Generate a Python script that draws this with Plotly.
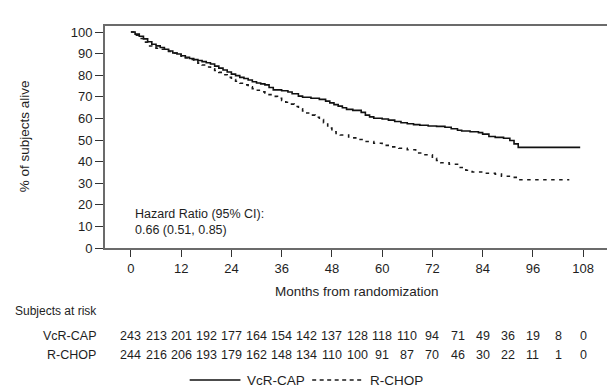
import plotly.graph_objects as go

# ---- Data ----
vcr_months = [0,1,2,3,4,5,6,7,8,9,10,11,12,13,14,15,16,17,18,19,20,21,22,23,24,25,26,27,28,29,30,31,32,33,34,
              36,37.5,38.5,40,41,43,45,46.5,47.5,48.5,49.5,50.5,51.5,53,55,56,57,58,60,61.5,63,64.5,66,67.5,69,71,73,75,
              76.5,78,79,81,83,84,85.5,87,89,90.5,91.5,92.5,107.3]
vcr_surv = [100,99,98,96.8,95.5,94.3,93.6,92.8,92,91.2,90.3,89.8,89,88.3,87.7,87.2,86.8,86.3,85.8,85.2,
            84.2,83.3,82.4,81.5,80.5,79.8,79,78.5,77.8,77,76.4,76,75.5,74.3,73.2,
            72.8,72.2,71.4,70.3,69.8,69.3,68.8,68,67.2,66.4,65.7,64.9,64.2,63.7,62.8,61.5,60.7,60.1,59.7,59.2,58.6,58,
            57.5,57.1,56.8,56.5,56.3,55.9,55.2,54.5,54.2,53.8,53.4,52.7,51.6,51.2,50.8,49.8,48.2,46.6,46.6]

rchop_months = [0,1,2,3,4,5,6,7,8,9,10,11,12,13,14,15,16,17,18,19,20,21,22,23,24,25,26,27,28,29,30,31,32,33,34,
                35,36,37,38,39,40,41,42,43,44,45,46,47,48,49,50,
                52,54,56,58,60,62,64,66,68,70,72,73,74,76,78,80,81.5,84,87,88.5,91,92.5,104.7]
rchop_surv = [100,98.5,97,95.3,93.5,93,92.5,92,91.5,91,90.2,89.5,88.8,88,87.3,86.6,85.6,84.7,83.8,83,
              82.2,81.3,80.2,79,78,77.2,76.3,75.5,74.6,73.8,73,72.3,71.8,71,70.2,69.3,68.3,67.5,66.6,65.5,
              64.5,63.5,62.5,61.5,60.5,59.5,58,55.5,53.8,53,52.3,
              51,50.2,49.3,48.5,47.5,46.8,46.2,45.5,44,43.2,41.5,40.5,39.5,38.8,37.3,36,35.2,34.6,34.2,33.2,32.7,31.6,31.6]

x_ticks = [0,12,24,36,48,60,72,84,96,108]
y_ticks = [0,10,20,30,40,50,60,70,80,90,100]

risk_months = [0,6,12,18,24,30,36,42,48,54,60,66,72,78,84,90,96,102,108]
risk_vcr = [243,213,201,192,177,164,154,142,137,128,118,110,94,71,49,36,19,8,0]
risk_rchop = [244,216,206,193,179,162,148,134,110,100,91,87,70,46,30,22,11,1,0]

series_names = ["VcR-CAP", "R-CHOP"]
hr_text = "Hazard Ratio (95% CI):<br>0.66 (0.51, 0.85)"

# ---- Layout helpers (pixel -> paper) ----
W, H = 615, 387
L, R, T, B = 97, 12, 18, 147
PW, PH = W - L - R, H - T - B
def px(xp):
    return (xp - L) / PW
def py(yp):
    return (H - B - yp) / PH

FONT = "Liberation Sans, Arial, sans-serif"
TXT = "#1e1e1e"

fig = go.Figure()
fig.add_trace(go.Scatter(x=vcr_months, y=vcr_surv, mode="lines", line_shape="hv",
                         line=dict(color="#111111", width=1.6), name=series_names[0],
                         showlegend=False))
fig.add_trace(go.Scatter(x=rchop_months, y=rchop_surv, mode="lines", line_shape="hv",
                         line=dict(color="#1a1a1a", width=1.6, dash="3.5px,4.5px"), name=series_names[1],
                         showlegend=False))

annotations = []
# axis titles
annotations.append(dict(text="% of subjects alive", xref="paper", yref="paper", x=px(16), y=py(128),
                        textangle=-90, showarrow=False, xanchor="center", yanchor="middle",
                        font=dict(size=13.5, color=TXT, family=FONT)))
annotations.append(dict(text="Months from randomization", xref="paper", yref="paper", x=px(350), y=py(283),
                        showarrow=False, xanchor="center", yanchor="middle",
                        font=dict(size=13.5, color=TXT, family=FONT)))
# hazard ratio
annotations.append(dict(text=hr_text, xref="paper", yref="paper", x=px(125), y=py(214),
                        showarrow=False, xanchor="left", yanchor="middle", align="left",
                        font=dict(size=12.5, color=TXT, family=FONT)))
# risk table
annotations.append(dict(text="Subjects at risk", xref="paper", yref="paper", x=px(5), y=py(303),
                        showarrow=False, xanchor="left", yanchor="middle",
                        font=dict(size=12, color=TXT, family=FONT)))
for name, counts, ypix in [(series_names[0], risk_vcr, 328), (series_names[1], risk_rchop, 347)]:
    annotations.append(dict(text=name, xref="paper", yref="paper", x=px(90), y=py(ypix),
                            showarrow=False, xanchor="right", yanchor="middle",
                            font=dict(size=12.5, color=TXT, family=FONT)))
    for m, n in zip(risk_months, counts):
        annotations.append(dict(text=str(n), xref="x", yref="paper", x=m, y=py(ypix),
                                showarrow=False, xanchor="center", yanchor="middle",
                                font=dict(size=12.5, color=TXT, family=FONT)))
# legend
ly = py(372)
annotations.append(dict(text=series_names[0], xref="paper", yref="paper", x=px(238), y=ly,
                        showarrow=False, xanchor="left", yanchor="middle",
                        font=dict(size=13.5, color=TXT, family=FONT)))
annotations.append(dict(text=series_names[1], xref="paper", yref="paper", x=px(361), y=ly,
                        showarrow=False, xanchor="left", yanchor="middle",
                        font=dict(size=13.5, color=TXT, family=FONT)))
shapes = [
    dict(type="line", xref="paper", yref="paper", x0=px(182), x1=px(233), y0=ly, y1=ly,
         line=dict(color="#111111", width=1.4)),
    dict(type="line", xref="paper", yref="paper", x0=px(305), x1=px(357), y0=ly, y1=ly,
         line=dict(color="#1a1a1a", width=1.4, dash="4px,3.5px")),
]

fig.update_layout(
    width=W, height=H, margin=dict(l=L, r=R, t=T, b=B),
    paper_bgcolor="white", plot_bgcolor="white",
    font=dict(family=FONT, size=13, color=TXT),
    annotations=annotations, shapes=shapes, showlegend=False,
    xaxis=dict(range=[-6.185, 114.18], tickvals=x_ticks, ticks="outside", ticklen=7, tickwidth=1,
               tickcolor="#333333", showline=True, mirror=True, linecolor="#6b6b6b", linewidth=2,
               showgrid=False, zeroline=False, tickfont=dict(size=13, color=TXT, family=FONT)),
    yaxis=dict(range=[0, 102.78], tickvals=y_ticks, ticks="outside", ticklen=8, tickwidth=1,
               tickcolor="#333333", showline=True, mirror=True, linecolor="#6b6b6b", linewidth=2,
               showgrid=False, zeroline=False, tickfont=dict(size=13, color=TXT, family=FONT)),
)

fig.write_html("out.html", config={"displayModeBar": False})
